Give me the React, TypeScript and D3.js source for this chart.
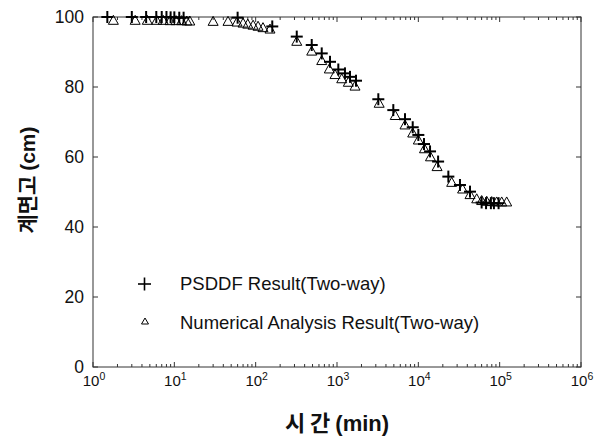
import React from "react";
import * as d3 from "d3";

const psddfTime = [1.5, 3, 4.5, 6, 7, 8, 9, 10, 11.5, 13, 60, 160, 320, 489, 649, 820, 1038, 1253, 1445, 1713, 3221, 4924, 6855, 8530, 10000, 11740, 13930, 17500, 23390, 32500, 43200, 60000, 68000, 78000, 85000, 97000];
const psddfHeight = [100, 100, 100, 100, 100, 100, 99.9, 99.9, 99.8, 99.8, 99.8, 97.3, 94.4, 92, 89.6, 87.2, 85, 83.9, 82.9, 81.8, 76.5, 73.4, 70.8, 68.5, 66.3, 63.7, 61.6, 58.7, 54.4, 52, 50.1, 47, 46.8, 46.8, 46.8, 46.8];

const numTime = [1.78, 3.3, 4.65, 6.07, 7.3, 8.85, 10.5, 12.3, 14.2, 15.5, 30, 45.7, 59, 70, 80, 93, 107, 123, 150, 320, 489, 649, 804, 945, 1143, 1378, 1665, 3300, 5200, 6855, 8530, 10000, 11900, 14100, 17000, 25700, 35000, 43200, 52200, 60100, 69300, 79800, 91800, 105900, 122000];
const numHeight = [99.2, 99.2, 99.2, 99.2, 99.2, 99.1, 99.1, 99.1, 99.0, 99.0, 98.9, 98.9, 98.7, 98.4, 98.1, 97.8, 97.5, 97.1, 96.7, 93.2, 90.4, 87.7, 85.3, 83.7, 82.5, 81.5, 80.4, 75.5, 72, 69.3, 67, 65, 62.5, 60.2, 57.4, 52.9, 51, 49.4, 48.2, 47.7, 47.5, 47.4, 47.3, 47.3, 47.3];

const xTickExponents = [0, 1, 2, 3, 4, 5, 6];
const yTicks = [0, 20, 40, 60, 80, 100];
const legendLabels = ["PSDDF Result(Two-way)", "Numerical Analysis Result(Two-way)"];

const W = 612, H = 436;
const L = 93, R = 581, T = 17, B = 367;
const latin = "'Liberation Sans', Arial, sans-serif";
const kr = "'Noto Sans CJK KR', 'Liberation Sans', sans-serif";

export default function App() {
  const x = d3.scaleLog().domain([1, 1e6]).range([L, R]);
  const y = d3.scaleLinear().domain([0, 100]).range([B, T]);
  const minor: number[] = [];
  for (let e = 0; e < 6; e++) for (let m = 2; m <= 9; m++) minor.push(m * Math.pow(10, e));
  const tri = (cx: number, cy: number, w: number, h: number) =>
    `M${cx - w / 2},${cy + h / 2}L${cx},${cy - h / 2}L${cx + w / 2},${cy + h / 2}Z`;
  const axisColor = "#333";
  return (
    <svg width={W} height={H} style={{ position: "absolute", left: 0, top: 0, background: "#fff" }}>
      <rect x={L} y={T} width={R - L} height={B - T} fill="none" stroke={axisColor} strokeWidth={1} />
      {minor.map((v, i) => (
        <g key={"m" + i} stroke={axisColor} strokeWidth={1}>
          <line x1={x(v)} x2={x(v)} y1={B} y2={B - 3} />
          <line x1={x(v)} x2={x(v)} y1={T} y2={T + 3} />
        </g>
      ))}
      {xTickExponents.map((e) => (
        <g key={"x" + e}>
          <line x1={x(Math.pow(10, e))} x2={x(Math.pow(10, e))} y1={B} y2={B - 5} stroke={axisColor} />
          <line x1={x(Math.pow(10, e))} x2={x(Math.pow(10, e))} y1={T} y2={T + 5} stroke={axisColor} />
          <text x={x(Math.pow(10, e)) + 1} y={386} textAnchor="middle" fontFamily={latin} fontSize={15} fill="#111">
            10<tspan fontSize={10.5} dy={-6}>{e}</tspan>
          </text>
        </g>
      ))}
      {yTicks.map((v) => (
        <g key={"y" + v}>
          <line x1={L} x2={L + 5} y1={y(v)} y2={y(v)} stroke={axisColor} />
          <line x1={R} x2={R - 5} y1={y(v)} y2={y(v)} stroke={axisColor} />
          <text x={84} y={y(v) + 6} textAnchor="end" fontFamily={latin} fontSize={17.5} fill="#111">{v}</text>
        </g>
      ))}
      {numTime.map((t, i) => (
        <path key={"n" + i} d={tri(x(t), y(numHeight[i]), 10, 9)} fill="none" stroke="#000" strokeWidth={1} />
      ))}
      {psddfTime.map((t, i) => (
        <g key={"p" + i} stroke="#000" strokeWidth={2}>
          <line x1={x(t) - 6} x2={x(t) + 6} y1={y(psddfHeight[i])} y2={y(psddfHeight[i])} />
          <line x1={x(t)} x2={x(t)} y1={y(psddfHeight[i]) - 6} y2={y(psddfHeight[i]) + 6} />
        </g>
      ))}
      <g stroke="#000" strokeWidth={1.6}>
        <line x1={138} x2={151} y1={284} y2={284} />
        <line x1={144.5} x2={144.5} y1={277.5} y2={290.5} />
      </g>
      <path d={tri(145, 321, 7, 6)} fill="none" stroke="#000" strokeWidth={1} />
      <text x={180} y={290} fontFamily={latin} fontSize={18.5} fill="#111">{legendLabels[0]}</text>
      <text x={180} y={329} fontFamily={latin} fontSize={18.5} fill="#111">{legendLabels[1]}</text>
      <text x={(L + R) / 2} y={431} textAnchor="middle" fontSize={22} fill="#111">
        <tspan fontFamily={kr} fontWeight="bold">{"시  간 "}</tspan>
        <tspan fontFamily={latin} fontWeight="bold">(min)</tspan>
      </text>
      <text transform={`translate(35,180) rotate(-90)`} textAnchor="middle" fontSize={21} fill="#111">
        <tspan fontFamily={kr} fontWeight="bold">계면고 </tspan>
        <tspan fontFamily={latin} fontWeight="bold">(cm)</tspan>
      </text>
    </svg>
  );
}
